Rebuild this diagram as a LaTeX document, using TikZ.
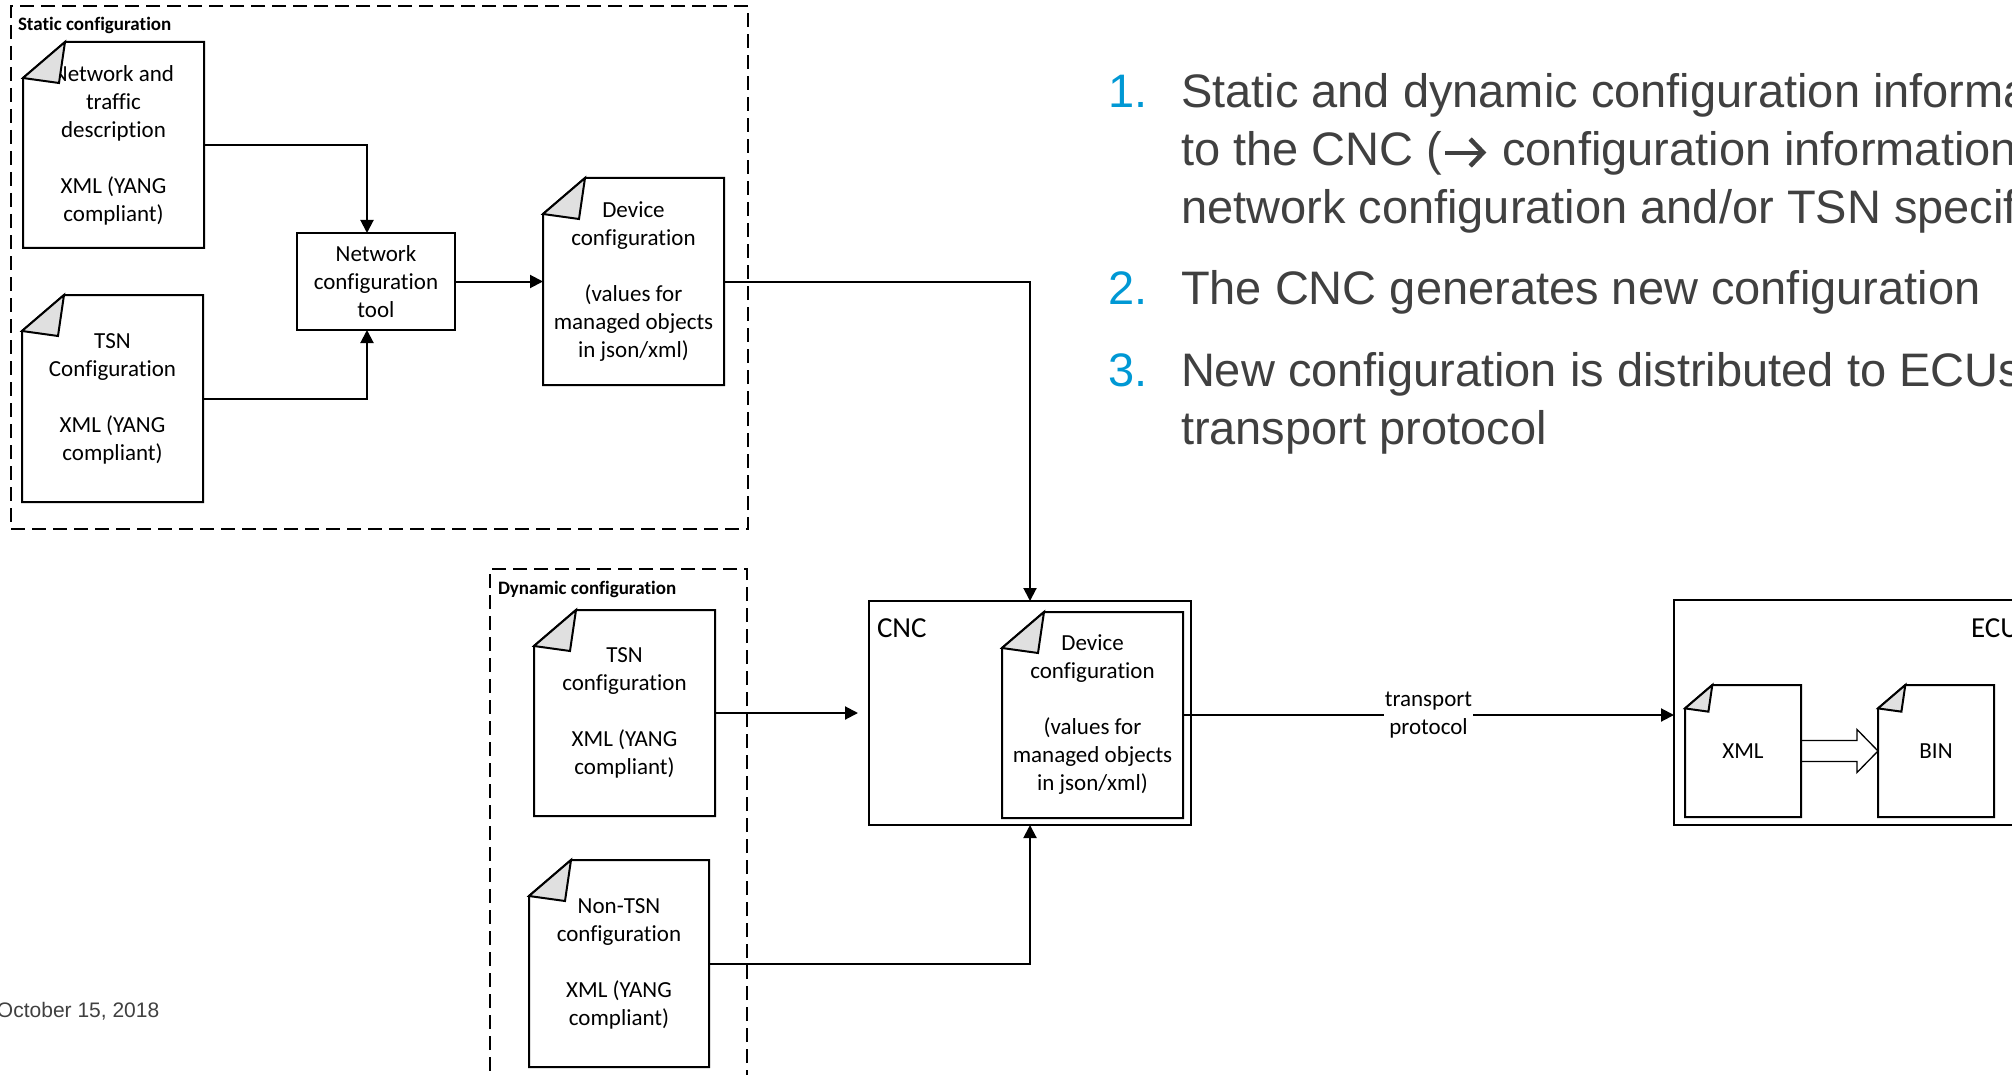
\documentclass[tikz,border=0pt]{standalone}
\usepackage{fontspec}
\setmainfont{Carlito}[Ligatures=NoCommon]
\newfontfamily\slidefont{Liberation Sans}
\usetikzlibrary{arrows.meta,calc}

\definecolor{slidegrey}{RGB}{64,64,64}
\definecolor{slideblue}{RGB}{0,152,212}
\definecolor{foldgrey}{RGB}{224,224,224}

\tikzset{
  every node/.style={inner sep=0pt, outer sep=0pt},
  boxline/.style={line width=2pt, line join=miter},
  groupbox/.style={draw, line width=2pt, dash pattern=on 14pt off 7pt},
  grouplabel/.style={font=\bfseries\fontsize{19}{23}\selectfont},
  doctext/.style={align=center, font=\fontsize{23}{28}\selectfont},
  docnode/.style={doctext},
  plainbox/.style={draw, boxline, doctext},
  biglabel/.style={font=\fontsize{29}{34}\selectfont},
  conn/.style={line width=2pt, -{Triangle[length=13pt,width=13pt]}},
  listnum/.style={font=\slidefont\fontsize{47}{58}\selectfont, text=slideblue},
  listtext/.style={font=\slidefont\fontsize{47}{58}\selectfont, text=slidegrey},
}

% outline of a document symbol with its folded top-left corner
\newcommand\docoutline[2][1]{%
  \draw[boxline] ($(#2.north west)+(0,36*#1)$) -- ($(#2.north west)+(42*#1,0)$)
    -- (#2.north east) -- (#2.south east) -- (#2.south west) -- cycle;
  \draw[boxline, fill=foldgrey] ($(#2.north west)+(0,36*#1)$)
    -- ($(#2.north west)+(42*#1,0)$) -- ($(#2.north west)+(36*#1,41*#1)$) -- cycle;
}

% bold open-headed arrow used inside the list text
\newcommand\boldarrow{\tikz[baseline=0pt, x=1pt, y=1pt]{%
  \useasboundingbox (0,0) rectangle (47,27);
  \draw[slidegrey, line width=4.5pt, line cap=butt] (3,13) -- (41,13);
  \draw[slidegrey, line width=4.5pt, line join=miter, line cap=butt] (28,27) -- (41,13.5) -- (28,0);}}

\begin{document}
\begin{tikzpicture}[x=1pt,y=-1pt]
\useasboundingbox (0,0) rectangle (2012,1075);
\clip (0,0) rectangle (2012,1075);

% ---- static configuration group
\node[groupbox, minimum width=737pt, minimum height=523pt] (static) at (379.5,267.5) {};
\node[grouplabel, anchor=base west] (staticlbl) at (18,31) {Static configuration};

\node[docnode, minimum width=181pt, minimum height=206pt] (netdesc) at (113.5,145)
  {Network and\\traffic\\description\\[28pt]XML (YANG\\compliant)};
\docoutline{netdesc}
\node[docnode, minimum width=181pt, minimum height=207pt] (tsnstatic) at (112.5,398.5)
  {TSN\\Configuration\\[28pt]XML (YANG\\compliant)};
\docoutline{tsnstatic}
\node[plainbox, minimum width=158pt, minimum height=97pt] (tool) at (376,281.5)
  {Network\\configuration\\tool};
\node[docnode, minimum width=181pt, minimum height=207pt] (devcfg) at (633.5,281.5)
  {Device\\configuration\\[28pt](values for\\managed objects\\in json/xml)};
\docoutline{devcfg}

% ---- dynamic configuration group
\node[groupbox, minimum width=257pt, minimum height=531pt] (dynamic) at (618.5,834.5) {};
\node[grouplabel, anchor=base west] (dynlbl) at (498,594) {Dynamic configuration};

\node[docnode, minimum width=181pt, minimum height=206pt] (tsndyn) at (624.5,713)
  {TSN\\configuration\\[28pt]XML (YANG\\compliant)};
\docoutline{tsndyn}
\node[docnode, minimum width=180pt, minimum height=207pt] (nontsn) at (619,963.5)
  {Non-TSN\\configuration\\[28pt]XML (YANG\\compliant)};
\docoutline{nontsn}

% ---- CNC
\node[draw, boxline, minimum width=322pt, minimum height=224pt] (cnc) at (1030,713) {};
\node[biglabel, anchor=base west] (cnclbl) at (877,637) {CNC};
\node[docnode, minimum width=181pt, minimum height=206pt] (cncdev) at (1092.5,715)
  {Device\\configuration\\[28pt](values for\\managed objects\\in json/xml)};
\docoutline{cncdev}

% ---- ECU
\node[draw, boxline, minimum width=356pt, minimum height=225pt] (ecu) at (1852,712.5) {};
\node[biglabel, anchor=base west] (eculbl) at (1971,637) {ECU};
\node[docnode, minimum width=116pt, minimum height=132pt] (xml) at (1743,751) {XML};
\docoutline[0.65]{xml}
\node[docnode, minimum width=116pt, minimum height=132pt] (bin) at (1936,751) {BIN};
\docoutline[0.65]{bin}
\draw[line width=1.3pt] ($(xml.east)+(0,-10.5)$) -- ($(bin.west)+(-21,-10.5)$)
  -- ($(bin.west)+(-21,-21.5)$) -- (bin.west) -- ($(bin.west)+(-21,21.5)$)
  -- ($(bin.west)+(-21,10.5)$) -- ($(xml.east)+(0,10.5)$);

% ---- connectors
\draw[conn] (netdesc.east) -| ([xshift=-9pt]tool.north);
\draw[conn] (tsnstatic.east) -| ([xshift=-9pt]tool.south);
\draw[conn] (tool.east) -- (devcfg.west);
\draw[conn] (devcfg.east) -| (cnc.north);
\draw[conn, shorten >=11pt] (tsndyn.east) -- (tsndyn.east -| cnc.west);
\draw[conn] (nontsn.east) -| (cnc.south);
\draw[conn] (cncdev.east) -- (cncdev.east -| ecu.west)
  node[midway, doctext, fill=white, inner xsep=1pt, inner ysep=2pt] (tplbl) {transport\\protocol};

% ---- numbered list
\node[listnum, anchor=base west] (n1) at (1108,108) {1.};
\node[listtext, anchor=base west] (t1a) at (1181,108) {Static and dynamic configuration information};
\node[listtext, anchor=base west] (t1b) at (1181,166) {to the CNC (\boldarrow{} configuration information};
\node[listtext, anchor=base west] (t1c) at (1181,224) {network configuration and/or TSN specific};
\node[listnum, anchor=base west] (n2) at (1108,305) {2.};
\node[listtext, anchor=base west] (t2) at (1181,305) {The CNC generates new configuration};
\node[listnum, anchor=base west] (n3) at (1108,386) {3.};
\node[listtext, anchor=base west] (t3a) at (1181,386) {New configuration is distributed to ECUs};
\node[listtext, anchor=base west] (t3b) at (1181,444) {transport protocol};

% ---- footer
\node[anchor=base west, font=\slidefont\fontsize{21}{25}\selectfont, text=slidegrey] (date)
  at (-3,1017) {October 15, 2018};
\end{tikzpicture}
\end{document}
